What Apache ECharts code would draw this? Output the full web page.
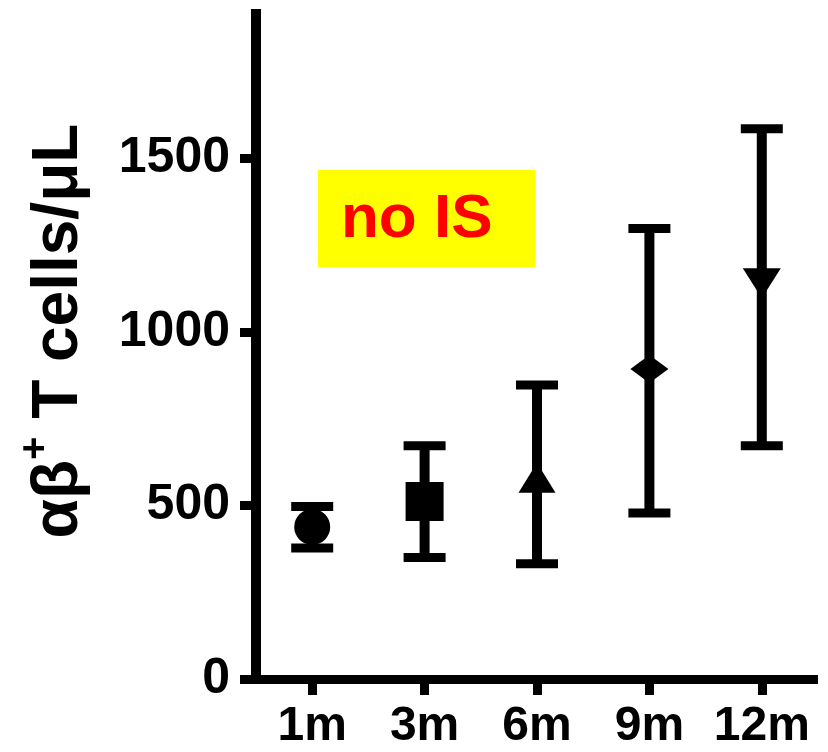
<!DOCTYPE html>
<html>
<head>
<meta charset="utf-8">
<script src="https://cdn.jsdelivr.net/npm/echarts@6/dist/echarts.min.js"></script>
<style>
html,body{margin:0;padding:0;background:#fff;}
#chart{width:828px;height:752px;}
</style>
</head>
<body>
<div id="chart"></div>
<script>
// ---- data ----
const categories = ['1m', '3m', '6m', '9m', '12m'];
const means = [438, 511, 580, 893, 1140];
const lowErr = [377, 350, 332, 478, 672];
const highErr = [497, 672, 847, 1298, 1585];
const yTicks = [0, 500, 1000, 1500];
const symbols = ['circle', 'rect', 'triangle', 'diamond', 'triangle'];
const symbolRotations = [0, 0, 0, 0, 180];
const symbolSizes = [[36, 36], [38, 39], [37, 30], [38, 28], [38, 30]];

const FONT = '"Liberation Sans", Arial, Helvetica, sans-serif';

const chart = echarts.init(document.getElementById('chart'), null, {renderer: 'canvas'});

const scatterData = categories.map((c, i) => ({
  value: [i, means[i]],
  symbol: symbols[i],
  symbolRotate: symbolRotations[i],
  symbolSize: symbolSizes[i]
}));
const errData = categories.map((c, i) => [i, lowErr[i], highErr[i]]);

const option = {
  backgroundColor: '#ffffff',
  animation: false,
  grid: {left: 256, right: 10, top: 9, bottom: 73, containLabel: false},
  xAxis: {
    type: 'category',
    data: categories,
    boundaryGap: true,
    axisLine: {show: true, lineStyle: {color: '#000', width: 9, cap: 'butt'}},
    axisTick: {show: true, alignWithLabel: true, interval: 0, length: 16, lineStyle: {color: '#000', width: 9}},
    axisLabel: {color: '#000', fontSize: 48, fontWeight: 'bold', fontFamily: FONT, margin: 24, interval: 0, hideOverlap: false},
    splitLine: {show: false}
  },
  yAxis: {
    type: 'value',
    min: 0,
    max: 1930,
    interval: 500,
    axisLine: {show: true, lineStyle: {color: '#000', width: 10, cap: 'butt'}},
    axisTick: {show: true, length: 16, lineStyle: {color: '#000', width: 9}, customValues: yTicks},
    axisLabel: {color: '#000', fontSize: 50, fontWeight: 'bold', fontFamily: FONT, margin: 26, customValues: yTicks,
      formatter: function (v) { return String(v); }},
    splitLine: {show: false},
    name: '{a|αβ}{s|+}{a| T cells/μL}',
    nameLocation: 'middle',
    nameGap: 165,
    nameRotate: 90,
    nameTextStyle: {
      padding: [0, 0, 0, 26],
      rich: {
        a: {fontSize: 64, fontWeight: 'bold', fontFamily: FONT, color: '#000', lineHeight: 66, verticalAlign: 'bottom'},
        s: {fontSize: 40, fontWeight: 'bold', fontFamily: FONT, color: '#000', lineHeight: 110, verticalAlign: 'middle'}
      }
    }
  },
  series: [
    {
      type: 'custom',
      data: errData,
      z: 2,
      renderItem: function (params, api) {
        const xi = api.value(0);
        const lo = api.coord([xi, api.value(1)]);
        const hi = api.coord([xi, api.value(2)]);
        const half = 21;
        const st = {stroke: '#000', lineWidth: 10, lineCap: 'butt'};
        const cs = {stroke: '#000', lineWidth: 9, lineCap: 'butt'};
        return {
          type: 'group',
          children: [
            {type: 'line', shape: {x1: lo[0], y1: lo[1], x2: hi[0], y2: hi[1]}, style: st},
            {type: 'line', shape: {x1: hi[0] - half, y1: hi[1], x2: hi[0] + half, y2: hi[1]}, style: cs},
            {type: 'line', shape: {x1: lo[0] - half, y1: lo[1], x2: lo[0] + half, y2: lo[1]}, style: cs}
          ]
        };
      }
    },
    {
      type: 'scatter',
      z: 3,
      data: scatterData,
      itemStyle: {color: '#000', opacity: 1}
    }
  ],
  graphic: [
    {type: 'rect', shape: {x: 318, y: 170, width: 217, height: 97}, style: {fill: '#ffff00'}, z: 10},
    {type: 'text', x: 341, y: 220, style: {text: 'no IS', fill: '#ff0000', font: 'bold 62px ' + FONT, verticalAlign: 'middle', align: 'left'}, z: 11}
  ]
};
chart.setOption(option);
</script>
</body>
</html>
